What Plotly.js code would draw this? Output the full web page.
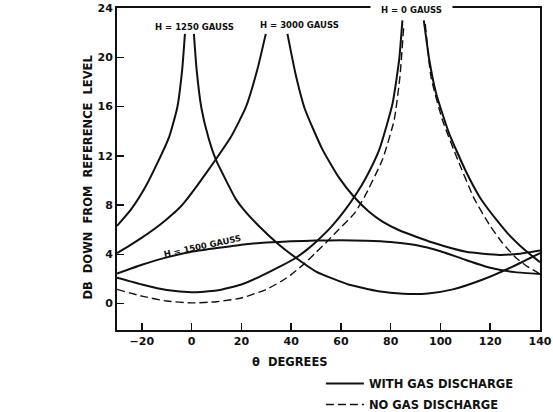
<!DOCTYPE html>
<html>
<head>
<meta charset="utf-8">
<script src="https://cdn.plot.ly/plotly-3.0.1.min.js"></script>
<style>html,body{margin:0;padding:0;background:#fff;}#chart{width:553px;height:412px;}</style>
</head>
<body>
<div id="chart"></div>
<script>
// theta in degrees, attenuation in dB down from reference level

// H = 1250 gauss
var h1250LeftTheta = [-30, -24.5, -18.5, -13.8, -9.1, -5.8, -3.8, -2.7];
var h1250LeftDb    = [6.3, 7.6, 9.5, 11.4, 13.5, 15.9, 19.0, 21.9];
var h1250RightTheta = [0.9, 2.0, 3.9, 6.7, 9.7, 14.3, 17.7, 21, 27, 35, 42, 50, 57, 63, 75, 85, 95, 105, 117, 129, 140];
var h1250RightDb    = [21.9, 19.0, 15.9, 13.5, 11.7, 9.8, 8.5, 7.6, 6.3, 4.8, 3.7, 2.6, 2.0, 1.55, 1.0, 0.8, 0.82, 1.15, 1.95, 3.0, 4.1];

// H = 3000 gauss
var h3000LeftTheta = [-30, -25, -20, -15, -10, -6, -3, 2.3, 9.7, 15.7, 21.7, 26.4, 29.8];
var h3000LeftDb    = [4.1, 4.7, 5.35, 6.05, 6.85, 7.55, 8.2, 9.6, 11.7, 13.5, 15.9, 19.0, 21.9];
var h3000RightTheta = [38.5, 41.8, 45.5, 52.6, 59.3, 65.3, 71.3, 76.7, 83.4, 96.8, 110.3, 123.7, 132, 140];
var h3000RightDb    = [21.9, 18.6, 15.8, 12.5, 10.2, 8.65, 7.45, 6.65, 5.95, 4.95, 4.2, 3.95, 4.05, 4.3];

// H = 1500 gauss
var h1500Theta = [-30, -20, -10, 0, 10, 20, 30, 40, 50, 60, 70, 80, 90, 100, 110, 120, 130, 140];
var h1500Db    = [2.43, 3.15, 3.75, 4.2, 4.5, 4.78, 4.95, 5.05, 5.12, 5.13, 5.1, 5.0, 4.75, 4.25, 3.55, 2.9, 2.55, 2.4];

// H = 0 gauss, with gas discharge
var h0GasLeftTheta = [-30, -20, -10, 0, 10, 20, 27, 35, 41.8, 46.5, 50.5, 56, 61.3, 66, 70, 75.4, 80.7, 83.4, 84.7];
var h0GasLeftDb    = [2.1, 1.55, 1.1, 0.92, 1.05, 1.55, 2.15, 2.95, 3.7, 4.4, 5.1, 6.2, 7.5, 8.85, 10.2, 12.5, 16.2, 19.8, 23.0];
var h0GasRightTheta = [93.3, 95.5, 98.2, 103.5, 110.3, 115.6, 118.3, 122.3, 127, 132, 136, 140];
var h0GasRightDb    = [23.0, 19.8, 17.1, 13.8, 10.7, 8.7, 7.9, 6.85, 5.7, 4.7, 4.0, 3.35];

// H = 0 gauss, no gas discharge
var h0NoGasLeftTheta = [-30, -20, -10, 0, 10, 20, 30, 36, 40, 44.5, 50, 55, 59.3, 65.3, 69.3, 76.7, 81.4, 83.7, 85.3];
var h0NoGasLeftDb    = [1.15, 0.6, 0.2, 0.05, 0.15, 0.45, 1.15, 1.8, 2.35, 3.1, 4.15, 5.15, 6.05, 7.3, 8.6, 11.7, 14.9, 18.4, 22.7];
var h0NoGasRightTheta = [93.9, 96.2, 100.8, 106.9, 113.6, 120, 125, 130.4, 135, 140];
var h0NoGasRightDb    = [22.7, 18.4, 14.9, 11.7, 8.5, 6.3, 4.9, 3.7, 3.0, 2.4];

var xTicks = [-20, 0, 20, 40, 60, 80, 100, 120, 140];
var yTicks = [0, 4, 8, 12, 16, 20, 24];
var legendNames = ['WITH GAS DISCHARGE', 'NO GAS DISCHARGE'];
var curveLabels = ['H = 1250 GAUSS', 'H = 3000 GAUSS', 'H = 0 GAUSS', 'H = 1500 GAUSS'];
var axisTitles = ['\u03B8  DEGREES', 'DB  DOWN  FROM  REFERENCE  LEVEL'];

var ink = '#111111';
var solid = {color: ink, width: 2, shape: 'spline', smoothing: 0.5};
var dashed = {color: ink, width: 1.4, dash: '8px,4px', shape: 'spline', smoothing: 0.5};

function tr(x, y, line, name, show, group) {
  return {x: x, y: y, type: 'scatter', mode: 'lines', line: line, name: name || '', showlegend: !!show,
          legendgroup: group || '', hoverinfo: 'skip'};
}

var data = [
  tr(h0GasLeftTheta, h0GasLeftDb, solid, legendNames[0], true, 'gas'),
  tr(h0NoGasLeftTheta, h0NoGasLeftDb, dashed, legendNames[1], true, 'nogas'),
  tr(h0GasRightTheta, h0GasRightDb, solid),
  tr(h0NoGasRightTheta, h0NoGasRightDb, dashed),
  tr(h1250LeftTheta, h1250LeftDb, solid),
  tr(h1250RightTheta, h1250RightDb, solid),
  tr(h3000LeftTheta, h3000LeftDb, solid),
  tr(h3000RightTheta, h3000RightDb, solid),
  tr(h1500Theta, h1500Db, solid)
];

var fnt = {family: 'DejaVu Sans', color: ink, weight: 'bold'};
function f(size) { return Object.assign({}, fnt, {size: size}); }

var layout = {
  width: 553, height: 412,
  margin: {l: 117, r: 13, t: 8, b: 82, autoexpand: false},
  paper_bgcolor: '#fff', plot_bgcolor: '#fff',
  showlegend: true,
  legend: {x: 0.482, y: -0.121, xanchor: 'left', yanchor: 'top', font: f(11.5), bgcolor: 'rgba(0,0,0,0)',
           itemwidth: 38, traceorder: 'grouped', tracegroupgap: 2},
  xaxis: {
    range: [-30, 140], tickvals: xTicks, ticks: 'inside', ticklen: 7, tickwidth: 1.5, tickcolor: ink,
    showline: true, linecolor: ink, linewidth: 2, mirror: true, showgrid: false, zeroline: false,
    tickfont: f(11), fixedrange: true
  },
  yaxis: {
    range: [-2.15, 24], tickvals: yTicks, ticks: 'inside', ticklen: 7, tickwidth: 1.5, tickcolor: ink,
    showline: true, linecolor: ink, linewidth: 2, mirror: true, showgrid: false, zeroline: false,
    tickfont: f(11), fixedrange: true
  },
  annotations: [
    {x: 1.0, y: 22.45, xref: 'x', yref: 'y', text: curveLabels[0], showarrow: false, font: f(8.5)},
    {x: 43.2, y: 22.6, xref: 'x', yref: 'y', text: curveLabels[1], showarrow: false, font: f(8.5)},
    {x: 88.2, y: 1, xref: 'x', yref: 'paper', yanchor: 'middle', xanchor: 'center', yshift: -2,
     text: '&nbsp;&nbsp;&nbsp;' + curveLabels[2] + '&nbsp;&nbsp;&nbsp;', showarrow: false, font: f(8.5), bgcolor: '#fff', borderpad: 1},
    {x: 4.5, y: 4.64, xref: 'x', yref: 'y', text: curveLabels[3], showarrow: false, font: f(8.5), textangle: -12},
    {x: 0.409, y: -0.0994, xref: 'paper', yref: 'paper', xanchor: 'center', yanchor: 'middle', text: axisTitles[0], showarrow: false, font: f(11.5)},
    {x: -0.0709, y: 0.4736, xref: 'paper', yref: 'paper', xanchor: 'center', yanchor: 'middle', text: axisTitles[1], showarrow: false, font: f(11.5), textangle: -90}
  ]
};

Plotly.newPlot('chart', data, layout, {staticPlot: true, displayModeBar: false});
</script>
</body>
</html>
